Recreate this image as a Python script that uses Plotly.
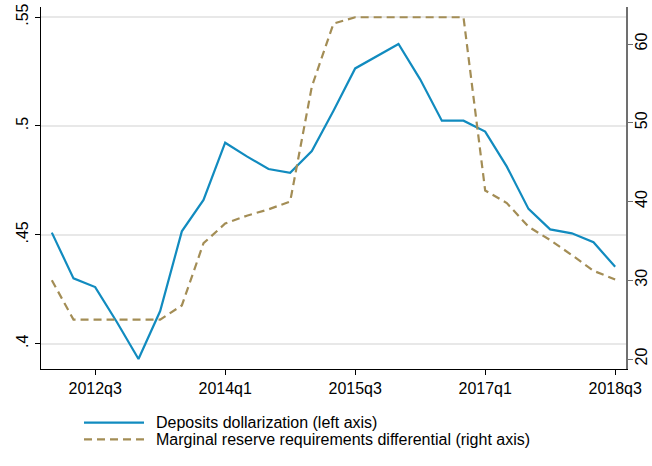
import plotly.graph_objects as go

quarters = ["2012q1","2012q2","2012q3","2012q4","2013q1","2013q2","2013q3","2013q4",
            "2014q1","2014q2","2014q3","2014q4","2015q1","2015q2","2015q3","2015q4",
            "2016q1","2016q2","2016q3","2016q4","2017q1","2017q2","2017q3","2017q4",
            "2018q1","2018q2","2018q3"]
deposits_dollarization = [0.451, 0.430, 0.426, 0.410, 0.393, 0.415, 0.4516, 0.466,
                          0.4923, 0.486, 0.4802, 0.4785, 0.4885, 0.507, 0.5264, 0.532,
                          0.5376, 0.5214, 0.5024, 0.5024, 0.4974, 0.4813, 0.4619, 0.4525,
                          0.4507, 0.4466, 0.4353]
reserve_diff = [30.0, 25.0, 25.0, 25.0, 25.0, 25.0, 26.8, 34.7,
                37.2, 38.2, 39.0, 40.0, 54.6, 62.6, 63.4, 63.4,
                63.4, 63.4, 63.4, 63.4, 41.4, 39.8, 36.8, 35.1,
                33.2, 31.2, 30.1]
series_names = ["Deposits dollarization (left axis)",
                "Marginal reserve requirements differential (right axis)"]
x_tick_labels = ["2012q3", "2014q1", "2015q3", "2017q1", "2018q3"]
left_ticks = [0.40, 0.45, 0.50, 0.55]
left_tick_text = [".4", ".45", ".5", ".55"]
right_ticks = [20, 30, 40, 50, 60]

x_idx = list(range(len(quarters)))
tick_pos = [quarters.index(q) for q in x_tick_labels]

BLUE = "#118bbf"
GOLD = "#a38d55"
FONT = "Liberation Sans, Arial, Helvetica, sans-serif"

W, H = 652, 466
ML, MR, MT, MB = 41, 26, 7, 97
PW, PH = W - ML - MR, H - MT - MB

def px_x(px):
    return (px - ML) / PW

def px_y(py):
    return (H - MB - py) / PH

fig = go.Figure()
fig.add_trace(go.Scatter(x=x_idx, y=deposits_dollarization, mode="lines",
                         name=series_names[0], showlegend=False, hoverinfo="skip",
                         line=dict(color=BLUE, width=2.2), yaxis="y"))
fig.add_trace(go.Scatter(x=x_idx, y=reserve_diff, mode="lines",
                         name=series_names[1], showlegend=False, hoverinfo="skip",
                         line=dict(color=GOLD, width=2.2, dash="8px,5px"), yaxis="y2"))

# manual legend (keys + labels) below the plot
legend_rows = [(BLUE, "solid", 422.7, series_names[0]),
               (GOLD, "8px,5px", 439.3, series_names[1])]
for color, dash, ypx, label in legend_rows:
    fig.add_shape(type="line", xref="paper", yref="paper",
                  x0=px_x(84), x1=px_x(144), y0=px_y(ypx), y1=px_y(ypx),
                  line=dict(color=color, width=2.2, dash=dash))
    fig.add_annotation(xref="paper", yref="paper", x=px_x(153.5), y=px_y(ypx),
                       xanchor="left", yanchor="middle", text=label,
                       showarrow=False, font=dict(size=16, color="black"))

fig.update_layout(
    width=W, height=H,
    margin=dict(l=ML, r=MR, t=MT, b=MB, autoexpand=False),
    plot_bgcolor="white", paper_bgcolor="white",
    font=dict(family=FONT, size=16, color="black"),
    showlegend=False,
    xaxis=dict(range=[-0.5, 26.5], tickmode="array", tickvals=tick_pos,
               ticktext=x_tick_labels, showgrid=False, zeroline=False,
               showline=True, linecolor="black", linewidth=1.3, automargin=False,
               ticks="outside", ticklen=5, tickcolor="black", tickwidth=1.2,
               tickfont=dict(size=16)),
    yaxis=dict(range=[0.3884, 0.5546], tickmode="array", tickvals=left_ticks,
               ticktext=left_tick_text, tickangle=-90, showgrid=True,
               gridcolor="#e8e8e8", gridwidth=1.5, zeroline=False, automargin=False,
               showline=True, linecolor="black", linewidth=1.3,
               ticks="outside", ticklen=5, tickcolor="black", tickwidth=1.2,
               tickfont=dict(size=16)),
    yaxis2=dict(range=[18.73, 64.7], tickmode="array", tickvals=right_ticks,
                overlaying="y", side="right", tickangle=-90, showgrid=False,
                zeroline=False, showline=True, linecolor="#707070", linewidth=1.5,
                automargin=False, ticklabelstandoff=-5,
                ticks="outside", ticklen=5, tickcolor="#707070", tickwidth=1.2,
                tickfont=dict(size=16)),
)

fig.write_html("out.html", config={"displayModeBar": False},
               post_script="document.body.style.margin='0';document.body.style.overflow='hidden';")
